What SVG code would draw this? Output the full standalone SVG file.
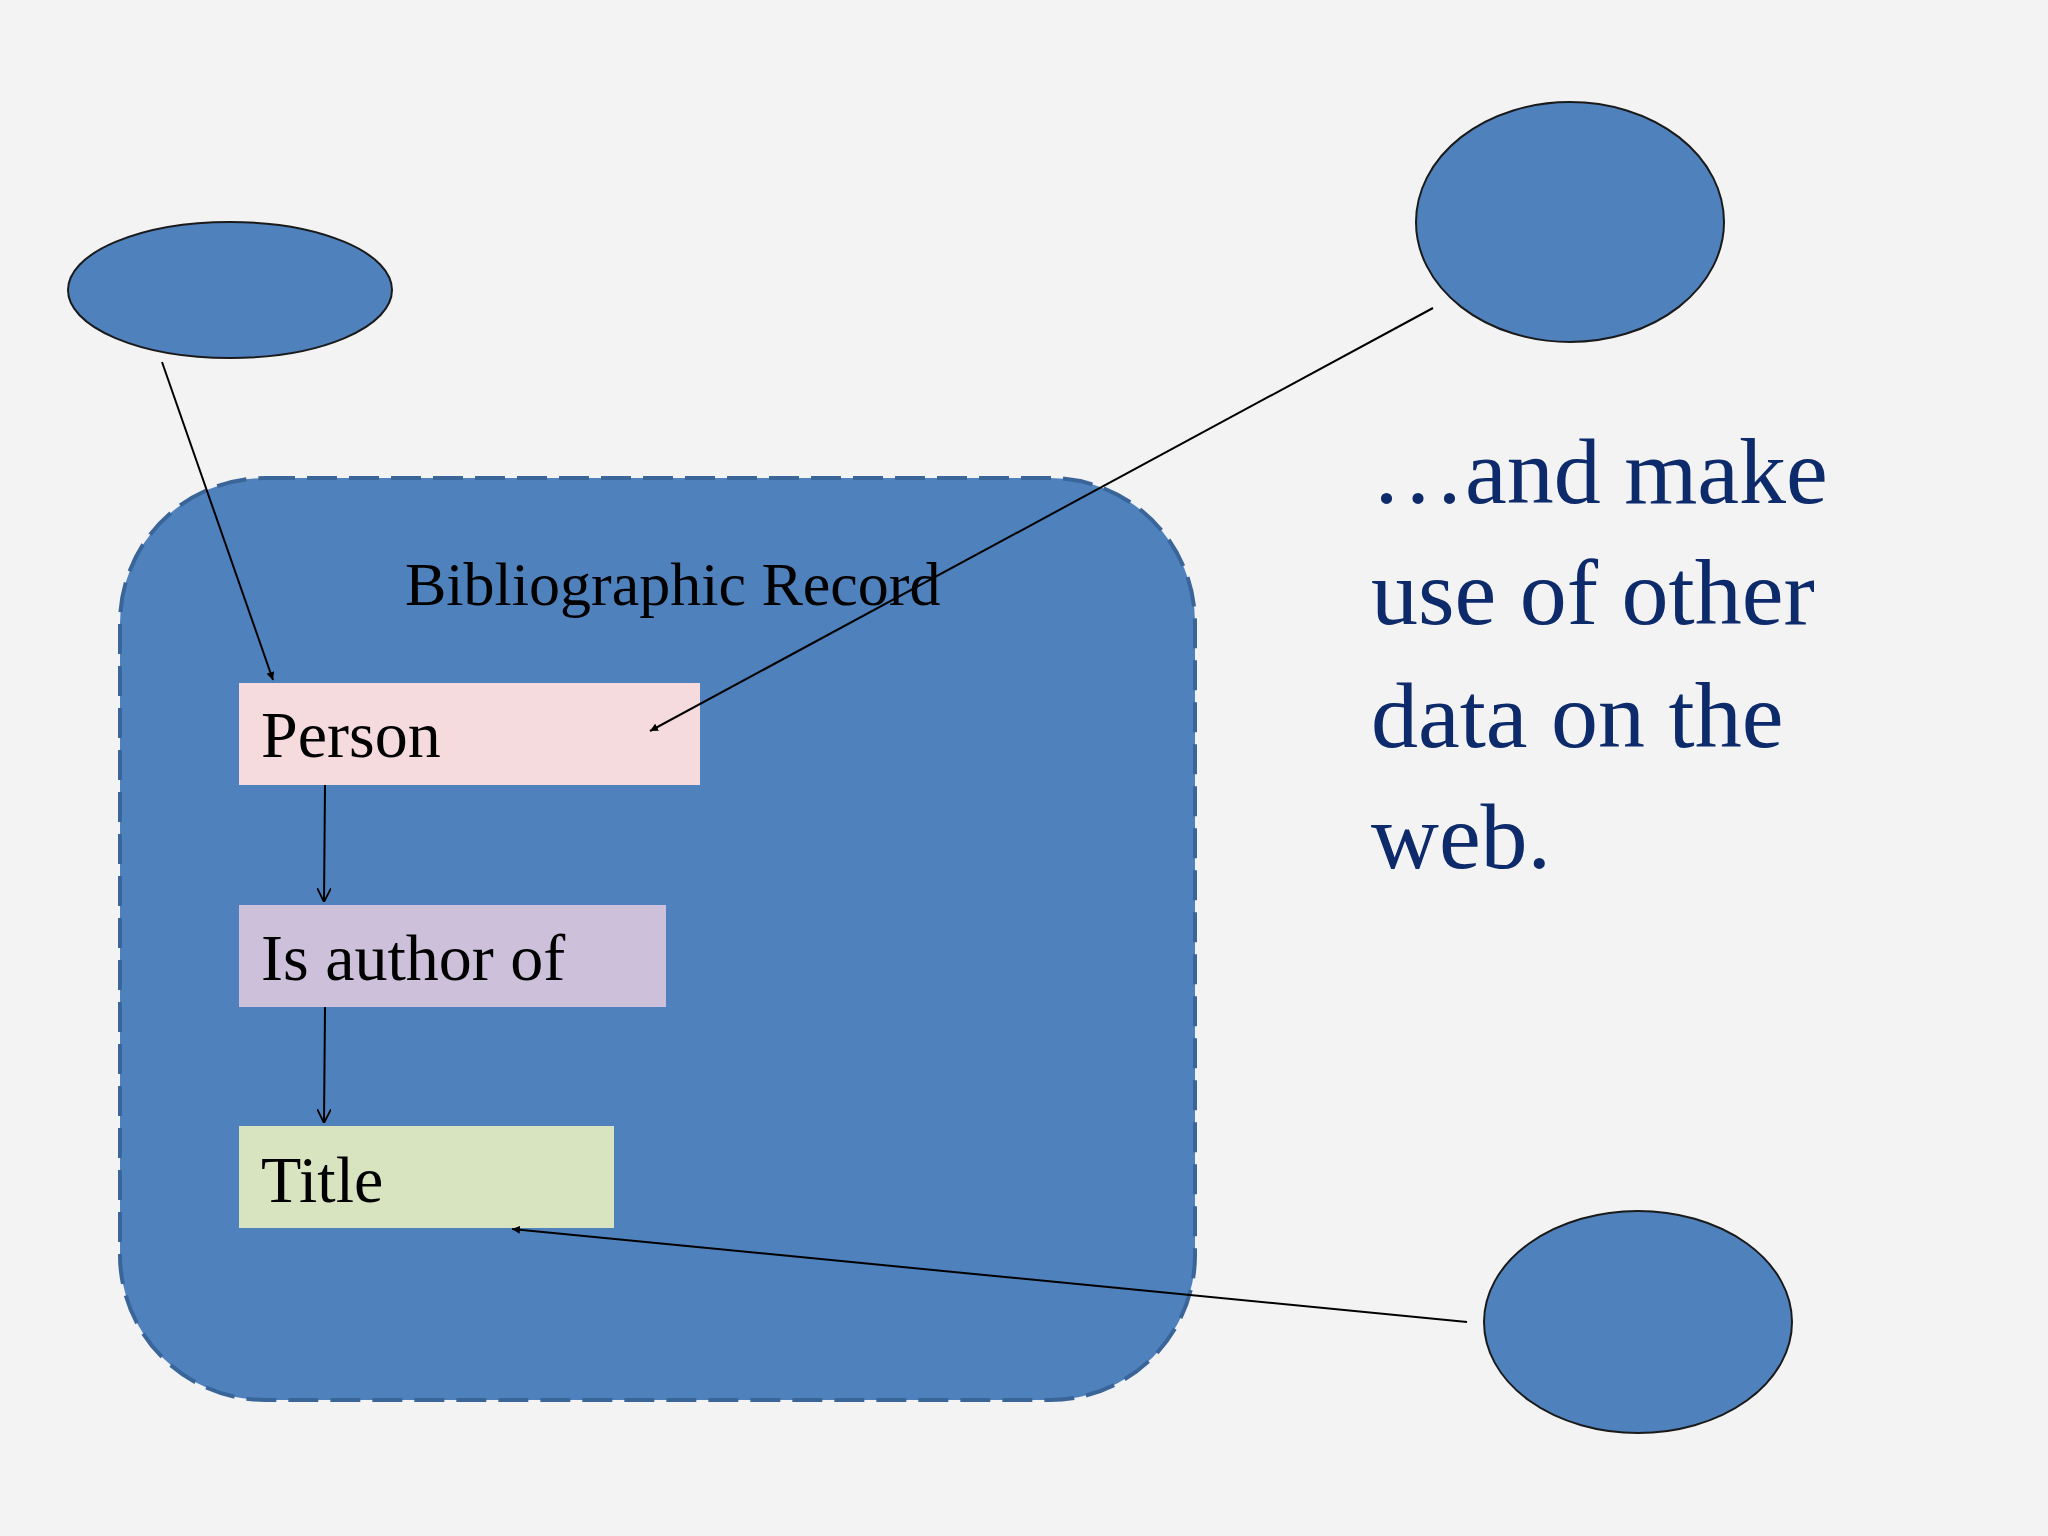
<svg xmlns="http://www.w3.org/2000/svg" width="2048" height="1536" viewBox="0 0 2048 1536">
<style>
.e{fill:#4f81bd;stroke:#1a1a1a;stroke-width:2}
.t{font-family:"Liberation Serif",serif;fill:#000}
.c{stroke:#000;stroke-width:2;fill:none}
</style>
<defs>
<marker id="a" viewBox="0 0 10 10" refX="10" refY="5" markerWidth="8" markerHeight="8" orient="auto" markerUnits="userSpaceOnUse"><path d="M0,0L10,5L0,10z" fill="#000"/></marker>
<marker id="o" viewBox="0 0 10 10" refX="10" refY="5" markerWidth="14" markerHeight="14" orient="auto" markerUnits="userSpaceOnUse"><path d="M0,0L10,5L0,10" fill="none" stroke="#000" stroke-width="1.3"/></marker>
</defs>
<rect width="2048" height="1536" fill="#f3f3f4"/>
<g id="record"><rect x="120" y="478" width="1075" height="922" rx="145" fill="#4f81bd" stroke="#3a6598" stroke-width="4" stroke-dasharray="30,12"/>
<text class="t" x="405" y="605" font-size="62">Bibliographic Record</text></g>
<g id="e1"><ellipse class="e" cx="230" cy="290" rx="162" ry="68"/></g>
<g id="e2"><ellipse class="e" cx="1570" cy="222" rx="154" ry="120"/></g>
<g id="e3"><ellipse class="e" cx="1638" cy="1322" rx="154" ry="111"/></g>
<g id="person"><rect x="239" y="683" width="461" height="102" fill="#f5dbde"/><text class="t" x="261" y="757" font-size="66">Person</text></g>
<g id="author"><rect x="239" y="905" width="427" height="102" fill="#cdc0da"/><text class="t" x="261" y="980" font-size="66">Is author of</text></g>
<g id="title"><rect x="239" y="1126" width="375" height="102" fill="#d7e4bf"/><text class="t" x="261" y="1202" font-size="66">Title</text></g>
<g id="note" class="t" font-size="94" style="fill:#0d2a6b"><text x="1371" y="503">…and make</text><text x="1371" y="624">use of other</text><text x="1371" y="747">data on the</text><text x="1371" y="868">web.</text></g>
<g id="connectors">
<line class="c" x1="162" y1="362" x2="273" y2="680" marker-end="url(#a)"/>
<line class="c" x1="1433" y1="308" x2="650" y2="731" marker-end="url(#a)"/>
<line class="c" x1="325" y1="785" x2="324" y2="902" marker-end="url(#o)"/>
<line class="c" x1="325" y1="1007" x2="324" y2="1123" marker-end="url(#o)"/>
<line class="c" x1="1467" y1="1322" x2="512" y2="1229" marker-end="url(#a)"/>
</g>
</svg>
